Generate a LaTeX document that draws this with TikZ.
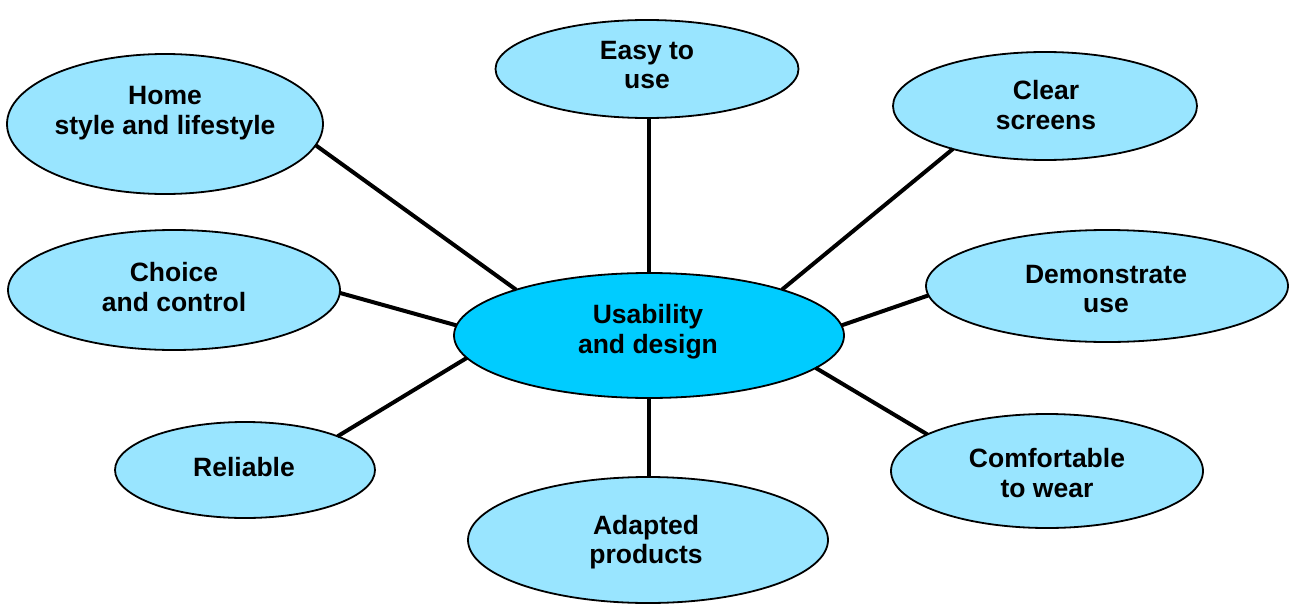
\documentclass[tikz,border=0pt]{standalone}
\usepackage{fontspec}
\setmainfont{Liberation Sans}
\usetikzlibrary{shapes.geometric}
\definecolor{leaf}{HTML}{99E5FF}
\definecolor{hubcol}{HTML}{00CCFF}
\begin{document}
\begin{tikzpicture}[x=1pt,y=-1pt,
  bubble/.style={ellipse,draw=black,line width=1.8pt,fill=leaf,inner sep=0pt,outer sep=0pt},
  hubshape/.style={bubble,fill=hubcol},
  lbl/.style={font=\fontsize{26.5}{29.5}\selectfont\bfseries,align=center,inner sep=0pt},
  link/.style={line width=4pt}]
\useasboundingbox (0,0) rectangle (1290,605);
% ellipses
\node[hubshape,minimum width=390pt,minimum height=125pt] (hub) at (649,335.5) {};
\node[bubble,minimum width=303pt,minimum height=98pt] (easy) at (647,69) {};
\node[bubble,minimum width=304pt,minimum height=108pt] (clear) at (1045,106) {};
\node[bubble,minimum width=316pt,minimum height=140pt] (home) at (165,124) {};
\node[bubble,minimum width=332pt,minimum height=120pt] (choice) at (174,290) {};
\node[bubble,minimum width=362pt,minimum height=112pt] (demo) at (1107,286) {};
\node[bubble,minimum width=260pt,minimum height=96pt] (reliable) at (245,470) {};
\node[bubble,minimum width=360pt,minimum height=126pt] (adapted) at (648,540) {};
\node[bubble,minimum width=312pt,minimum height=114pt] (comfort) at (1047,471) {};
% connectors
\draw[link] (hub.north) -- (hub.north |- easy.south);
\draw[link] (hub.south) -- (hub.south |- adapted.north);
\draw[link] (home.-8) -- (hub.161);
\draw[link] (clear.205) -- (hub.19);
\draw[link] (choice.-1) -- (hub.177.7);
\draw[link] (demo.183) -- (hub.3);
\draw[link] (reliable.20) -- (hub.187.5);
\draw[link] (comfort.163.5) -- (hub.-11);
% labels
\node[lbl] (hubt) at (648,331.5) {Usability\\and design};
\node[lbl] (easyt) at (647,65) {Easy to\\use};
\node[lbl] (cleart) at (1046,105) {Clear\\screens};
\node[lbl] (homet) at (165,113) {Home\\style and lifestyle};
\node[lbl] (choicet) at (174,287) {Choice\\and control};
\node[lbl] (demot) at (1106,289) {Demonstrate\\use};
\node[lbl] (reliablet) at (244,467) {Reliable};
\node[lbl] (adaptedt) at (646,542) {Adapted\\products};
\node[lbl] (comfortt) at (1047,473) {Comfortable\\to wear};
\end{tikzpicture}
\end{document}
